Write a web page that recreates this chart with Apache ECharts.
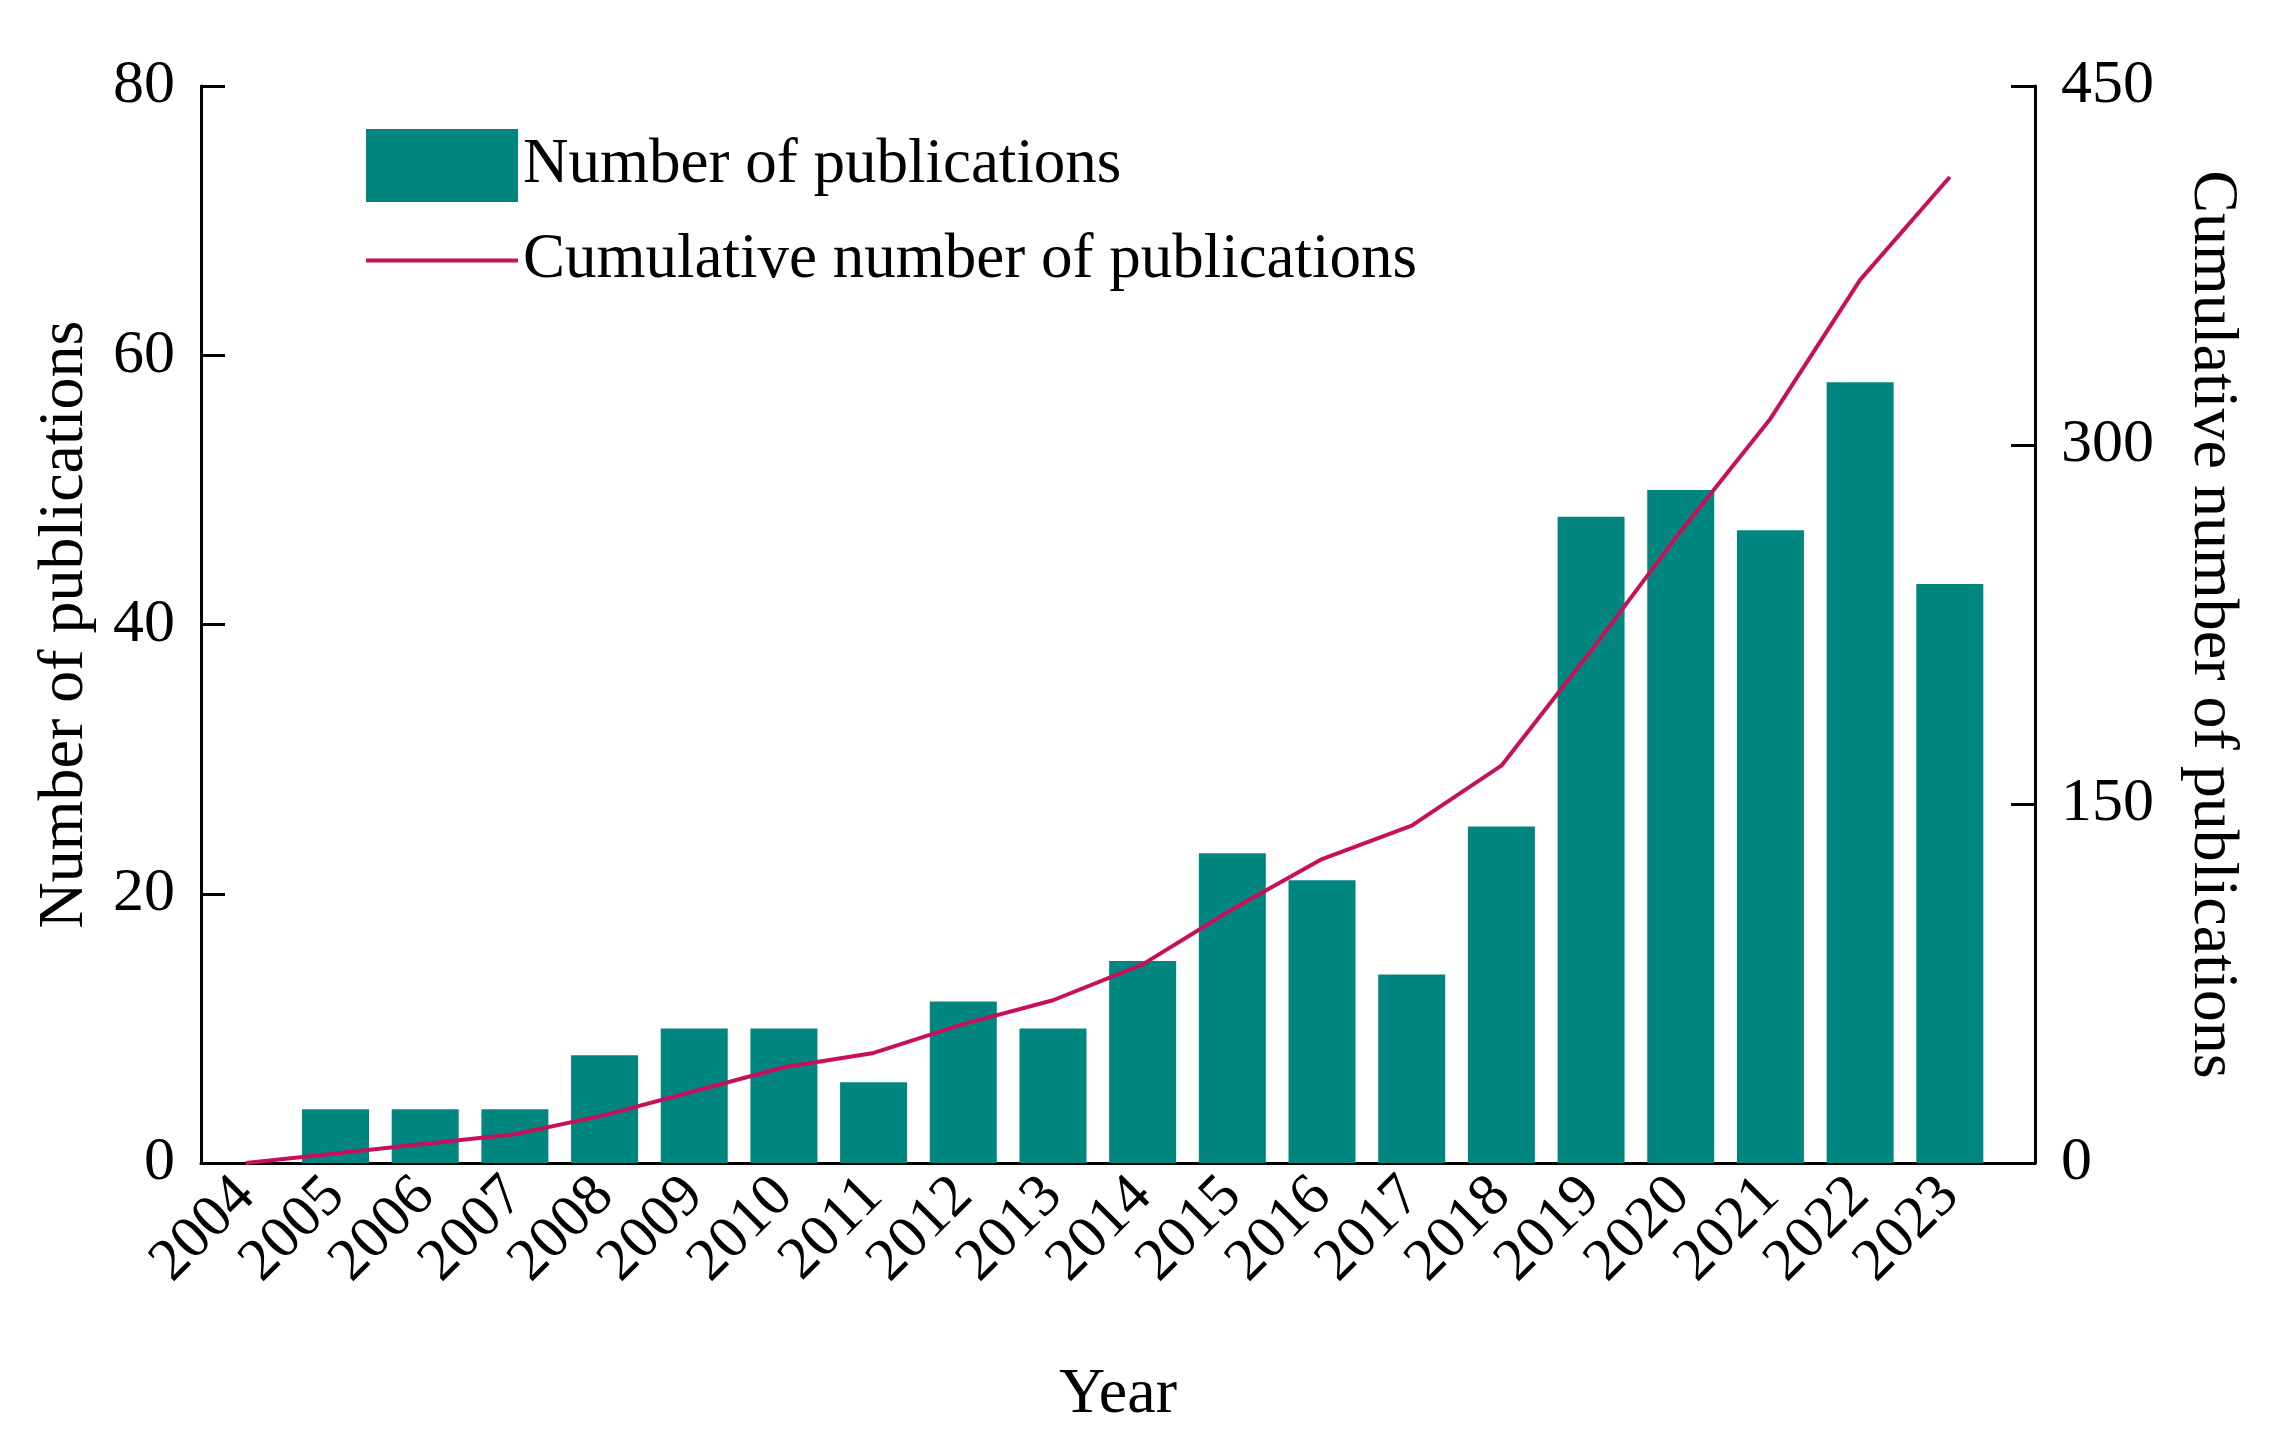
<!DOCTYPE html>
<html><head><meta charset="utf-8">
<script src="https://cdn.jsdelivr.net/npm/echarts@6/dist/echarts.min.js"></script>
<style>html,body{margin:0;padding:0;background:#fff}#c{width:2278px;height:1437px}</style>
</head><body><div id="c"></div>
<script>
const years = [2004,2005,2006,2007,2008,2009,2010,2011,2012,2013,2014,2015,2016,2017,2018,2019,2020,2021,2022,2023];
const publications = [0,4,4,4,8,10,10,6,12,10,15,23,21,14,25,48,50,47,58,43];
const cumulative = [0,4,8,12,20,30,40,46,58,68,83,106,127,141,166,214,264,311,369,412];
const leftTicks = [0,20,40,60,80];
const rightTicks = [0,150,300,450];

const F = 'Liberation Serif, Times New Roman, serif';
const chart = echarts.init(document.getElementById('c'));
chart.setOption({
  backgroundColor:'#fff',
  animation:false,
  grid:{left:201,right:243,top:86,bottom:274},
  legend:{left:359,top:124,orient:'vertical',itemWidth:152,itemHeight:73,itemGap:27,
    textStyle:{fontFamily:F,fontSize:63,color:'#000'},
    data:[{name:'Number of publications',icon:'rect'},
          {name:'Cumulative number of publications',itemStyle:{opacity:0},lineStyle:{width:4,color:'#c8105a'}}]},
  xAxis:{type:'value',min:2003.5,max:2023.95,interval:0.5,
    name:'Year',nameLocation:'middle',nameGap:200,
    nameTextStyle:{fontFamily:F,fontSize:64,color:'#000'},
    axisLine:{lineStyle:{color:'#000',width:3}},axisTick:{show:false},splitLine:{show:false},
    axisLabel:{rotate:45,fontFamily:F,fontSize:60,color:'#000',margin:24,showMaxLabel:false,
      formatter:v=>Number.isInteger(v)?String(v):''}},
  yAxis:[
    {type:'value',min:0,max:80,interval:20,name:'Number of publications',nameLocation:'middle',nameGap:104,
      nameTextStyle:{fontFamily:F,fontSize:64,color:'#000'},
      axisLine:{show:true,lineStyle:{color:'#000',width:3}},axisTick:{show:true,inside:true,length:24,lineStyle:{width:3}},
      splitLine:{show:false},axisLabel:{fontFamily:F,fontSize:62,color:'#000',margin:26,
        customValues:leftTicks}},
    {type:'value',min:0,max:450,interval:150,name:'Cumulative number of publications',nameLocation:'middle',nameGap:145,nameRotate:-90,
      nameTextStyle:{fontFamily:F,fontSize:64,color:'#000'},
      axisLine:{show:true,lineStyle:{color:'#000',width:3}},axisTick:{show:true,inside:true,length:24,lineStyle:{width:3}},
      splitLine:{show:false},axisLabel:{fontFamily:F,fontSize:62,color:'#000',margin:26,
        customValues:rightTicks}}
  ],
  series:[
    {name:'Number of publications',type:'bar',yAxisIndex:0,barWidth:67,
      itemStyle:{color:'#00867f'},data:years.map((y,i)=>[y,publications[i]])},
    {name:'Cumulative number of publications',type:'line',yAxisIndex:1,showSymbol:false,symbol:'none',
      lineStyle:{color:'#c8105a',width:4},itemStyle:{color:'#c8105a'},
      data:years.map((y,i)=>[y,cumulative[i]])}
  ]
});
</script></body></html>
